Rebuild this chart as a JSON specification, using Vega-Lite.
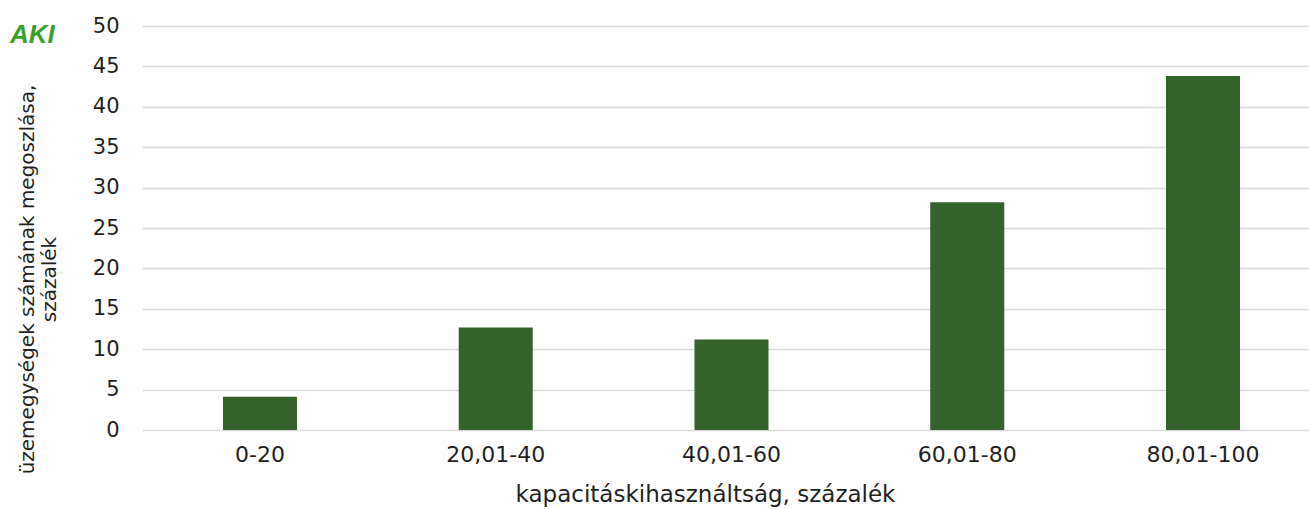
{
  "$schema": "https://vega.github.io/schema/vega-lite/v6.json",
  "autosize": {"type": "none"},
  "width": 1167,
  "height": 404,
  "padding": {"left": 142, "top": 26, "right": 0, "bottom": 79},
  "background": "white",
  "config": {"view": {"stroke": null}, "font": "DejaVu Sans"},
  "title": {
    "text": "AKI",
    "anchor": "start",
    "frame": "group",
    "dx": -132,
    "dy": 37,
    "fontSize": 26,
    "fontWeight": "bold",
    "fontStyle": "italic",
    "color": "#3aa02c",
    "font": "Liberation Sans"
  },
  "data": {
    "values": [
      {"kategoria": "0-20", "ertek": 4.1},
      {"kategoria": "20,01-40", "ertek": 12.7},
      {"kategoria": "40,01-60", "ertek": 11.2},
      {"kategoria": "60,01-80", "ertek": 28.2},
      {"kategoria": "80,01-100", "ertek": 43.8}
    ]
  },
  "mark": {"type": "bar", "color": "#34622b"},
  "encoding": {
    "x": {
      "field": "kategoria",
      "type": "nominal",
      "sort": null,
      "scale": {"paddingInner": 0.686, "paddingOuter": 0.318, "align": 0.54},
      "axis": {
        "title": "kapacitáskihasználtság, százalék",
        "labelAngle": 0,
        "labelFont": "DejaVu Sans",
        "labelFontSize": 22,
        "labelColor": "#1f1f1f",
        "labelPadding": 14,
        "ticks": false,
        "domain": false,
        "titleFont": "DejaVu Sans",
        "titleFontSize": 23,
        "titleFontWeight": "normal",
        "titleColor": "#1f1f1f",
        "titlePadding": 18,
        "titleX": 563
      }
    },
    "y": {
      "field": "ertek",
      "type": "quantitative",
      "scale": {"domain": [0, 50], "nice": false},
      "axis": {
        "values": [0, 5, 10, 15, 20, 25, 30, 35, 40, 45, 50],
        "title": ["üzemegységek számának megoszlása,", "százalék"],
        "titleFont": "DejaVu Sans",
        "titleFontSize": 20,
        "titleFontWeight": "normal",
        "titleColor": "#1f1f1f",
        "titleLineHeight": 22,
        "titleX": -105,
        "titleY": 253,
        "titleAngle": 270,
        "titleAlign": "center",
        "titleBaseline": "bottom",
        "labelFont": "DejaVu Sans",
        "labelFontSize": 21,
        "labelColor": "#1f1f1f",
        "labelPadding": 23,
        "ticks": false,
        "domain": false,
        "grid": true,
        "gridColor": "#d9d9d9",
        "gridWidth": 1.5
      }
    }
  }
}
